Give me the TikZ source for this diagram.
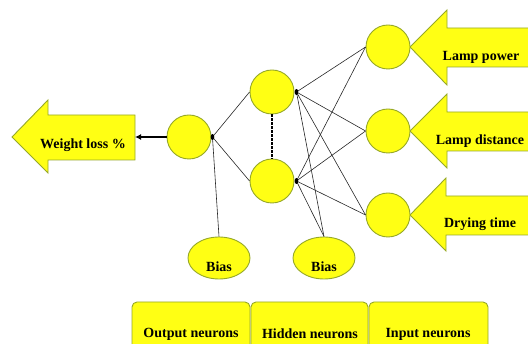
\documentclass[tikz,border=0pt]{standalone}
\usepackage{fontspec}
\setmainfont{Liberation Serif}
\usetikzlibrary{arrows.meta,shapes.geometric}
\definecolor{yel}{RGB}{255,255,20}
\definecolor{olv}{RGB}{150,168,40}
\begin{document}
\begin{tikzpicture}[x=1pt,y=-1pt,
  neuron/.style={circle,draw=olv,fill=yel,line width=0.9pt,minimum size=44pt,inner sep=0pt},
  biasnode/.style={ellipse,draw=olv,fill=yel,line width=0.9pt,minimum width=62pt,minimum height=42pt,inner sep=0pt},
  bigarrow/.style={draw=olv,fill=yel,line width=0.9pt,line join=miter},
  lbl/.style={font=\fontsize{14}{16}\selectfont\bfseries,inner sep=0pt},
  wire/.style={draw=black!85,line width=0.6pt},
  legendbox/.style={draw=olv,fill=yel,line width=0.9pt,rounded corners=5pt},
  hub/.style={fill=black}]
\useasboundingbox (0,0) rectangle (528,344);

% big arrows
\path[bigarrow] (12,137) -- (48,100) -- (48,115) -- (135,115) -- (135,160) -- (48,160) -- (48,173) -- cycle;
\path[bigarrow] (410,47) -- (447,10) -- (447,28) -- (532,28) -- (532,67) -- (447,67) -- (447,85) -- cycle;
\path[bigarrow] (410,131) -- (447,94) -- (447,112) -- (532,112) -- (532,151) -- (447,151) -- (447,168) -- cycle;
\path[bigarrow] (410,215) -- (446,178) -- (446,196) -- (532,196) -- (532,235) -- (446,235) -- (446,251) -- cycle;
\coordinate (wl) at (135,137);

\node[lbl] (twl) at (83,145) {Weight loss \%};
\node[lbl] (tlp) at (481,57) {Lamp power};
\node[lbl] (tld) at (480,141) {Lamp distance};
\node[lbl] (tdt) at (480,224) {Drying time};

% neurons
\node[neuron] (out) at (189,137) {};
\node[neuron] (h1) at (272,92) {};
\node[neuron] (h2) at (272,181) {};
\node[neuron] (in1) at (388,47) {};
\node[neuron] (in2) at (388,131) {};
\node[neuron] (in3) at (388,215) {};
\node[biasnode] (b1) at (219,258) {};
\node[biasnode] (b2) at (324,258) {};
\node[lbl] (tb1) at (219,267) {Bias};
\node[lbl] (tb2) at (324,267) {Bias};

% wires
\coordinate (od) at ([xshift=1pt]out.east);
\coordinate (hd1) at ([xshift=2pt]h1.east);
\coordinate (hd2) at ([xshift=2pt]h2.east);
\draw[wire] (in1.west) -- (hd1);
\draw[wire] (in2.west) -- (hd1);
\draw[wire] (in3.west) -- (hd1);
\draw[wire] (b2.north) -- (hd1);
\draw[wire] (in1.west) -- (hd2);
\draw[wire] (in2.west) -- (hd2);
\draw[wire] (in3.west) -- (hd2);
\draw[wire] (b2.north) -- (hd2);
\draw[wire] (h1.west) -- (od);
\draw[wire] (h2.west) -- (od);
\draw[wire] (b1.north) -- (od);
\fill[hub] (od) ellipse (1.8 and 3);
\fill[hub] (hd1) ellipse (1.8 and 3);
\fill[hub] (hd2) ellipse (1.8 and 3);
\draw[line width=1.6pt,dash pattern=on 2.5pt off 1.5pt] (h1.south) -- (h2.north);
\draw[line width=2pt,-{Latex[length=6pt,width=6pt]}] (out.west) -- (wl);

% legend boxes
\draw[legendbox] (132,302) rectangle (250,352);
\draw[legendbox] (251,302) rectangle (368,352);
\draw[legendbox] (369,302) rectangle (488,352);
\node[lbl] (lo) at (191,334) {Output neurons};
\node[lbl] (lh) at (310,334) {Hidden neurons};
\node[lbl] (li) at (428,334) {Input neurons};
\end{tikzpicture}
\end{document}
